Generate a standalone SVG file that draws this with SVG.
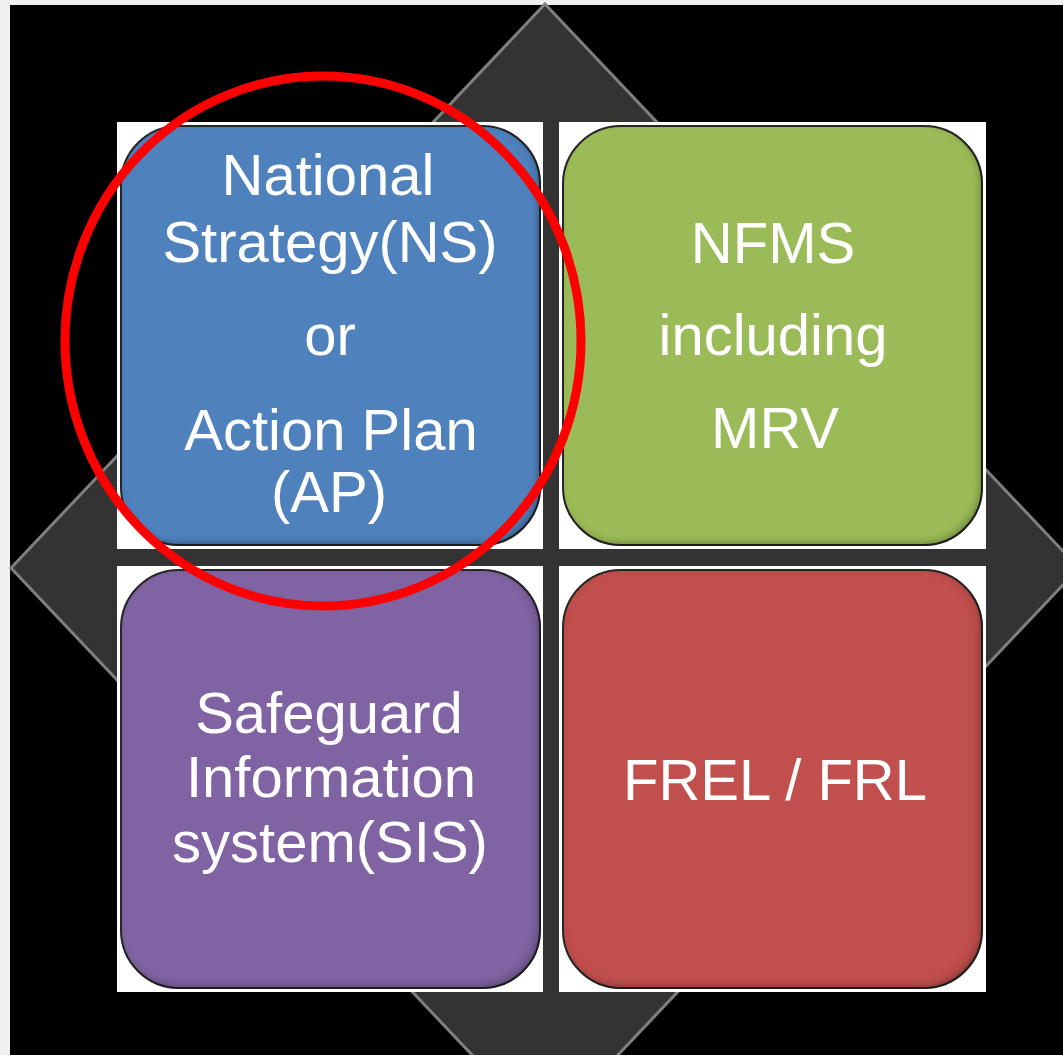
<svg xmlns="http://www.w3.org/2000/svg" width="1063" height="1055" viewBox="0 0 1063 1055">
<defs>
<style>
.lbl{font-family:"Liberation Sans",Arial,sans-serif;font-size:58px;fill:#ffffff;text-anchor:middle}
.tile{fill:#ffffff}
.rr{stroke:#2a2a2a;stroke-width:2}
</style>
<filter id="bevel" x="-5%" y="-5%" width="110%" height="110%">
<feGaussianBlur in="SourceAlpha" stdDeviation="4" result="b"/>
<feOffset in="b" dx="-3" dy="-3" result="o"/>
<feComposite in="SourceAlpha" in2="o" operator="out" result="inner"/>
<feFlood flood-color="#000" flood-opacity="0.6"/>
<feComposite in2="inner" operator="in" result="sh"/>
<feMerge><feMergeNode in="SourceGraphic"/><feMergeNode in="sh"/></feMerge>
</filter>
</defs>
<rect x="0" y="0" width="1063" height="1055" fill="#f0f0f0"/>
<rect x="10" y="5" width="1053" height="1050" fill="#000000"/>
<polygon points="545,4 1079,568 545,1132 11,568" fill="#333333" stroke="#7f7f7f" stroke-width="3"/>
<g id="node-ns">
<rect class="tile" x="117" y="122" width="426" height="427"/>
<rect class="rr" x="121" y="126" width="419" height="419" rx="58" fill="#4f81bd" filter="url(#bevel)"/>
<text class="lbl" x="328" y="195">National</text>
<text class="lbl" x="330" y="262">Strategy(NS)</text>
<text class="lbl" x="330" y="355">or</text>
<text class="lbl" x="331" y="450">Action Plan</text>
<text class="lbl" x="329" y="512">(AP)</text>
</g>
<g id="node-nfms">
<rect class="tile" x="559" y="122" width="427" height="427"/>
<rect class="rr" x="563" y="126" width="419" height="419" rx="58" fill="#9bbb59" filter="url(#bevel)"/>
<text class="lbl" x="773" y="263">NFMS</text>
<text class="lbl" x="773" y="355">including</text>
<text class="lbl" x="775" y="448">MRV</text>
</g>
<g id="node-sis">
<rect class="tile" x="117" y="566" width="426" height="426"/>
<rect class="rr" x="121" y="570" width="419" height="418" rx="58" fill="#8064a2" filter="url(#bevel)"/>
<text class="lbl" x="329" y="733">Safeguard</text>
<text class="lbl" x="331" y="797">Information</text>
<text class="lbl" x="330" y="862">system(SIS)</text>
</g>
<g id="node-frel">
<rect class="tile" x="559" y="566" width="427" height="426"/>
<rect class="rr" x="563" y="570" width="419" height="418" rx="58" fill="#c0504d" filter="url(#bevel)"/>
<text class="lbl" x="775" y="800">FREL / FRL</text>
</g>
<g id="connectors">
<ellipse cx="323" cy="341" rx="258" ry="265" fill="none" stroke="#ff0000" stroke-width="9"/>
</g>
</svg>
